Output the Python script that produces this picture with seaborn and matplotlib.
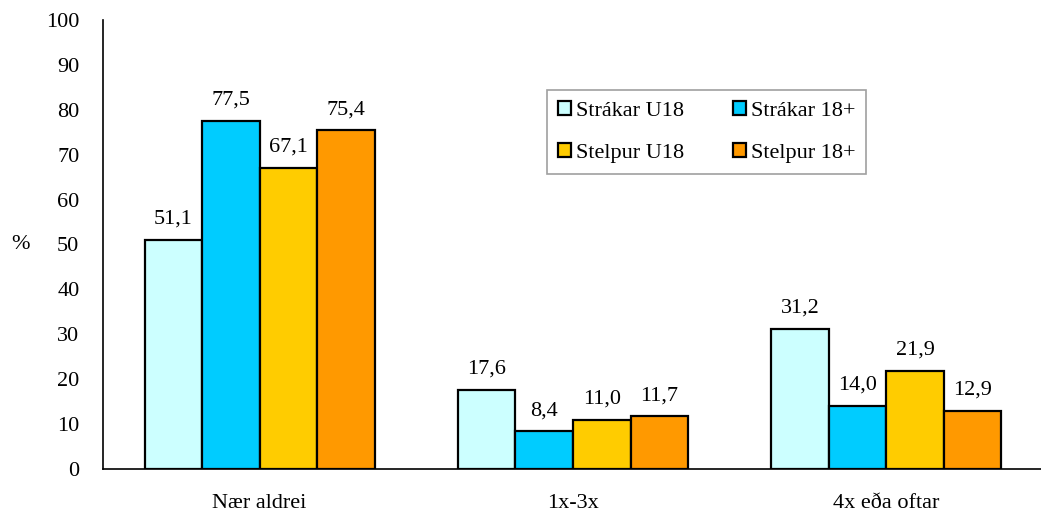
import numpy as np
import pandas as pd
import matplotlib
matplotlib.use("Agg")
import matplotlib.pyplot as plt
import seaborn as sns

# Gögn
flokkar = ["Nær aldrei", "1x-3x", "4x eða oftar"]
hopar = ["Strákar U18", "Strákar 18+", "Stelpur U18", "Stelpur 18+"]
strakar_u18 = [51.1, 17.6, 31.2]
strakar_18 = [77.5, 8.4, 14.0]
stelpur_u18 = [67.1, 11.0, 21.9]
stelpur_18 = [75.4, 11.7, 12.9]
litir = ["#CCFFFF", "#00CCFF", "#FFCC00", "#FF9900"]

df = pd.DataFrame({
    "flokkur": flokkar * 4,
    "hopur": np.repeat(hopar, 3),
    "gildi": strakar_u18 + strakar_18 + stelpur_u18 + stelpur_18,
})

sns.set_style("white")
plt.rcParams["font.family"] = ["Liberation Serif", "DejaVu Serif"]
fs = 16
plt.rcParams.update({"font.size": fs, "text.color": "black",
                     "xtick.color": "black", "ytick.color": "black",
                     "axes.labelcolor": "black"})

fig = plt.figure(figsize=(10.41, 5.18), dpi=100)
ax = fig.add_axes([103 / 1041, 1 - 469 / 518, 940 / 1041, 449 / 518])

sns.barplot(data=df, x="flokkur", y="gildi", hue="hopur", order=flokkar,
            hue_order=hopar, palette=litir, width=0.735, edgecolor="black",
            linewidth=1.6, saturation=1, ax=ax)

for c in ax.containers:
    ax.bar_label(c, labels=[f"{v:.1f}".replace(".", ",") for v in c.datavalues],
                 padding=8, fontsize=fs, color="black")

ax.set_xlim(-0.5, 2.5)
ax.set_ylim(0, 100)
ax.set_yticks(range(0, 101, 10))
ax.set_xticks([-0.5, 0.5, 1.5, 2.5], minor=True)
ax.tick_params(axis="x", which="major", length=0, pad=18, labelsize=fs, labelcolor="black")
ax.tick_params(axis="x", which="minor", length=6, direction="out", width=0.8, color="#555555")
ax.tick_params(axis="y", length=6, direction="out", width=0.8, color="#555555",
               labelsize=fs, pad=11, labelcolor="black")
ax.set_xlabel("")
ax.set_ylabel("%", rotation=0, fontsize=fs, va="center", color="black")
ax.yaxis.set_label_coords(-0.088, 0.5)

for s in ["top", "right"]:
    ax.spines[s].set_visible(False)
for s in ["left", "bottom"]:
    ax.spines[s].set_color("black")
    ax.spines[s].set_linewidth(1.2)

h, l = ax.get_legend_handles_labels()
rod = [0, 2, 1, 3]
leg = ax.legend([h[i] for i in rod], [l[i] for i in rod], ncol=2,
                loc="upper left", bbox_to_anchor=(547 / 1041, 1 - 90 / 518),
                bbox_transform=fig.transFigure, borderaxespad=0, fancybox=False,
                frameon=True, edgecolor="#888888", fontsize=fs, handlelength=0.6,
                handleheight=0.6, handletextpad=0.2, columnspacing=2.2,
                labelspacing=1.0, borderpad=0.5, labelcolor="black")
leg.get_frame().set_linewidth(1.2)

fig.savefig("out.png", dpi=100)
